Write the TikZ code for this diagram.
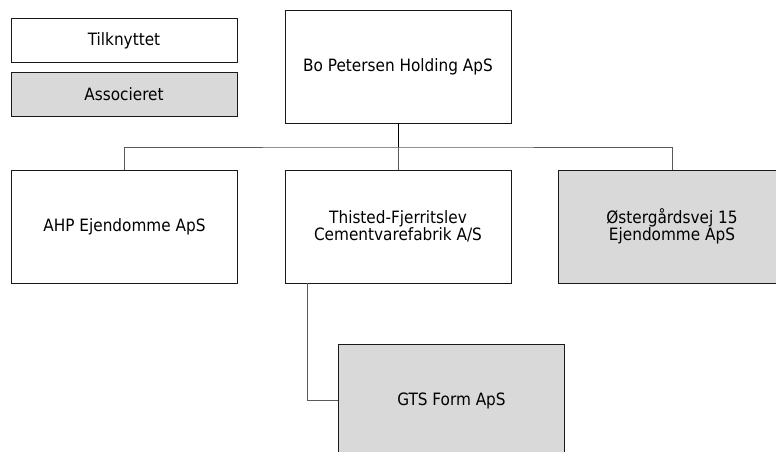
\documentclass[tikz,border=0pt]{standalone}
\usepackage{fontspec}
\setmainfont{DejaVu Sans Condensed}
\begin{document}
\begin{tikzpicture}[x=1pt,y=-1pt,
  box/.style={draw=black!90, line width=0.9pt, fill=white, align=center, inner sep=0pt,
    minimum width=226pt, minimum height=113pt, font=\fontsize{17}{17.5}\selectfont},
  legbox/.style={box, minimum height=44pt},
  assoc/.style={fill=black!15},
  conn/.style={draw=black!65, line width=0.9pt}]
\clip (0,0) rectangle (776,452);
\fill[white] (0,0) rectangle (776,452);
\node[legbox] (lt) at (124,40.5) {Tilknyttet};
\node[legbox, assoc] (la) at (124,94) {Associeret};
\node[box] (bp) at (398,66.5) {Bo Petersen Holding ApS};
\node[box] (ahp) at (124.5,226.5) {AHP Ejendomme ApS};
\node[box] (tf) at (398,226.5) {Thisted-Fjerritslev\\Cementvarefabrik A/S};
\node[box, assoc, minimum width=228pt] (ost) at (672,226.5) {Østergårdsvej 15\\Ejendomme ApS};
\node[box, assoc] (gts) at (451.5,400.5) {GTS Form ApS};
\coordinate (j) at (398,147);
\draw[line width=0.9pt] (bp.south) -- (j);
\draw[conn] (ahp.north) |- (j) -| (ost.north);
\draw[conn] (j) -- (tf.north);
\draw[conn] ([xshift=23pt]tf.south west) |- (gts.west);
\end{tikzpicture}
\end{document}
